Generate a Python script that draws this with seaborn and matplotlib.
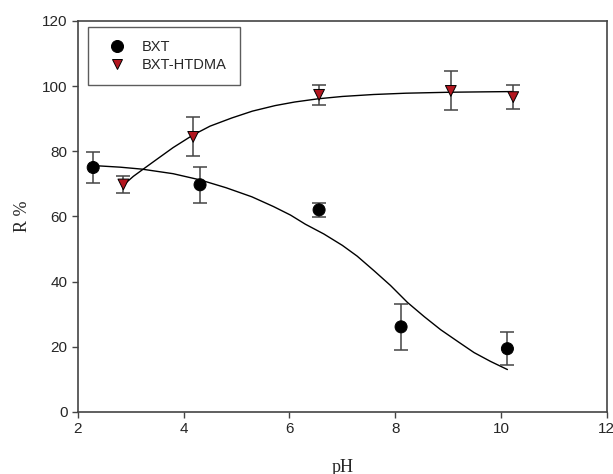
import numpy as np
import pandas as pd
import seaborn as sns
import matplotlib.pyplot as plt

ph_bxt = [2.29, 4.31, 6.56, 8.11, 10.12]
r_bxt = [75.0, 69.7, 62.0, 26.1, 19.4]
err_bxt = [4.8, 5.6, 2.1, 7.0, 5.0]

ph_htdma = [2.86, 4.18, 6.56, 9.05, 10.23]
r_htdma = [69.8, 84.4, 97.3, 98.5, 96.6]
err_htdma = [2.6, 6.0, 3.0, 6.0, 3.8]

# fitted curves
fit_ph_bxt = [2.29, 2.8, 3.21, 3.8, 4.31, 4.8, 5.29, 5.7, 6.02, 6.30, 6.65,
              7.0, 7.28, 7.6, 7.91, 8.23, 8.55, 8.86, 9.2, 9.49, 9.8, 10.12]
fit_r_bxt = [75.6, 75.1, 74.5, 73.1, 71.2, 68.8, 66.0, 63.0, 60.4, 57.6, 54.6,
             51.1, 47.8, 43.3, 38.8, 33.6, 29.2, 25.2, 21.4, 18.2, 15.5, 13.0]

fit_ph_htdma = [2.86, 3.05, 3.27, 3.5, 3.8, 4.18, 4.5, 4.91, 5.3, 5.73, 6.1,
                6.55, 7.0, 7.59, 8.2, 9.05, 9.6, 10.21]
fit_r_htdma = [69.6, 72.3, 74.9, 77.6, 81.1, 85.0, 87.7, 90.2, 92.3, 94.0, 95.1,
               96.1, 96.8, 97.4, 97.8, 98.1, 98.2, 98.3]

pts = pd.DataFrame({
    "pH": ph_bxt + ph_htdma,
    "R": r_bxt + r_htdma,
    "sample": ["BXT"] * len(ph_bxt) + ["BXT-HTDMA"] * len(ph_htdma),
})

sns.set_theme(style="ticks")
plt.rcParams["font.family"] = ["Liberation Sans", "DejaVu Sans"]

fig = plt.figure(figsize=(6.13, 4.74), dpi=100)
ax = fig.add_axes([0.127, 0.131, 0.863, 0.825])

# fitted lines
sns.lineplot(x=fit_ph_bxt, y=fit_r_bxt, color="black", lw=1.0, ax=ax, zorder=2)
sns.lineplot(x=fit_ph_htdma, y=fit_r_htdma, color="black", lw=1.0, ax=ax, zorder=2)

# error bars
ax.errorbar(ph_bxt, r_bxt, yerr=err_bxt, fmt="none", ecolor="#444444",
            elinewidth=1.1, capsize=5, capthick=1.1, zorder=3)
ax.errorbar(ph_htdma, r_htdma, yerr=err_htdma, fmt="none", ecolor="#444444",
            elinewidth=1.1, capsize=5, capthick=1.1, zorder=3)

sns.scatterplot(data=pts, x="pH", y="R", hue="sample", style="sample",
                palette={"BXT": "black", "BXT-HTDMA": "#b3161f"},
                markers={"BXT": "o", "BXT-HTDMA": "v"},
                size="sample", sizes={"BXT": 75, "BXT-HTDMA": 60},
                edgecolor="black", linewidth=0.7, ax=ax, zorder=4)

ax.set_xlim(2, 12)
ax.set_ylim(0, 120)
ax.set_xticks([2, 4, 6, 8, 10, 12])
ax.set_yticks([0, 20, 40, 60, 80, 100, 120])
ax.tick_params(labelsize=11, length=4, width=1, color="#444444", direction="out")

for sp in ax.spines.values():
    sp.set_color("#444444")
    sp.set_linewidth(1.2)

ax.set_xlabel("pH", family=["Liberation Serif"], fontsize=13, labelpad=16)
ax.set_ylabel("R %", family=["Liberation Serif"], fontsize=13, labelpad=8)

handles, labels = ax.get_legend_handles_labels()
leg = ax.legend(handles, labels, loc="upper left", bbox_to_anchor=(0.019, 0.985),
                fontsize=10.5, frameon=True, fancybox=False, edgecolor="#333333",
                borderpad=0.9, handletextpad=0.6, labelspacing=0.3,
                borderaxespad=0, handlelength=2.2)
leg.get_frame().set_linewidth(1.0)

fig.savefig("out.png", dpi=100)
